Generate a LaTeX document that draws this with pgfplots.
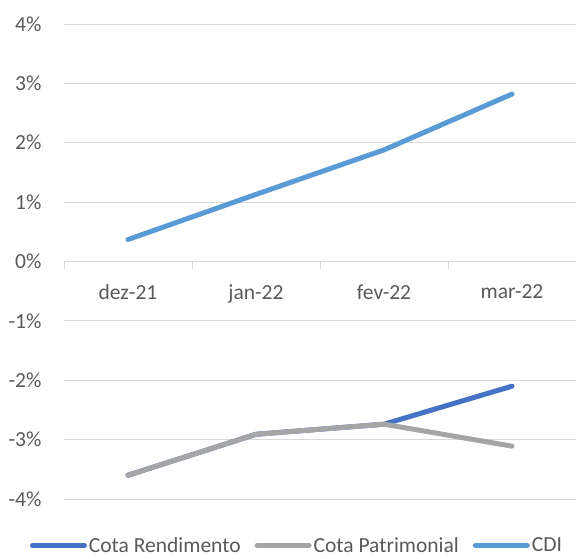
\documentclass[border=0pt]{standalone}
\usepackage{pgfplots}
\pgfplotsset{compat=1.18}
\usepackage{fontspec}
\setmainfont{Carlito}
\definecolor{rend}{HTML}{4472C4}
\definecolor{patr}{HTML}{A5A5A5}
\definecolor{cdi}{HTML}{5B9BD5}
\definecolor{gridgray}{HTML}{D9D9D9}
\definecolor{labelgray}{HTML}{595959}
\begin{document}
\begin{tikzpicture}
\useasboundingbox (0,0) rectangle (576bp,559bp);
\begin{axis}[
  at={(64bp,60bp)}, anchor=south west,
  scale only axis, width=512bp, height=475bp,
  xmin=-0.5, xmax=3.5, ymin=-4, ymax=4,
  axis x line=middle, axis y line=left,
  axis line style={-},
  x axis line style={draw=gridgray, line width=1bp},
  y axis line style={draw=none},
  hide obscured x ticks=false, hide obscured y ticks=false,
  ytick={-4,-3,-2,-1,0,1,2,3,4},
  yticklabels={-4\%,-3\%,-2\%,-1\%,0\%,1\%,2\%,3\%,4\%},
  xtick={0,1,2,3},
  xticklabels={dez-21,jan-22,fev-22,mar-22},
  major tick length=0pt,
  ymajorgrids, grid style={gridgray, line width=1bp},
  ticklabel style={font=\fontsize{21.5bp}{25bp}\selectfont, text=labelgray},
  xticklabel style={yshift=-20bp},
  yticklabel style={xshift=-19bp},
  clip=false,
  legend columns=-1,
  legend style={at={(0.455,-0.098)}, anchor=center, draw=none, fill=none,
    font=\fontsize{21.5bp}{25bp}\selectfont, text=labelgray,
    /tikz/every even column/.append style={column sep=12bp},
    inner sep=0pt},
  legend cell align=left,
  legend image code/.code={\draw[#1, line width=5bp, line cap=round] (0bp,0bp)--(52bp,0bp);},
]
\addplot[rend, line width=5bp, line cap=round, line join=round] coordinates {(0,-3.60) (1,-2.91) (2,-2.74) (3,-2.10)};
\addlegendentry{Cota Rendimento}
\addplot[patr, line width=5bp, line cap=round, line join=round] coordinates {(0,-3.60) (1,-2.91) (2,-2.74) (3,-3.11)};
\addlegendentry{Cota Patrimonial}
\addplot[cdi, line width=5bp, line cap=round, line join=round] coordinates {(0,0.37) (1,1.13) (2,1.88) (3,2.82)};
\addlegendentry{CDI}
\pgfplotsinvokeforeach{-0.5,0.5,1.5,2.5,3.5}{
  \draw[gridgray, line width=1bp] (axis cs:#1,0) -- ++(0pt,-7bp);
}
\end{axis}
\end{tikzpicture}
\end{document}
